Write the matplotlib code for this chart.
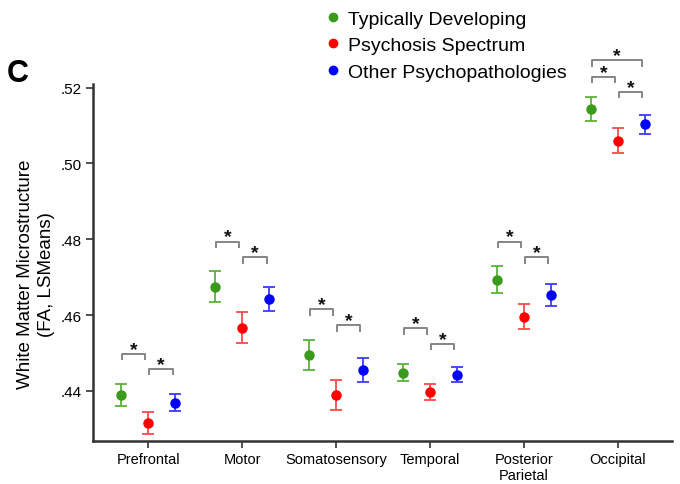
import numpy as np
import matplotlib
matplotlib.use("Agg")
import matplotlib.pyplot as plt
from matplotlib.lines import Line2D
from matplotlib.ticker import FuncFormatter

plt.rcParams['font.family'] = ['Liberation Sans', 'DejaVu Sans']

regions = ['Prefrontal', 'Motor', 'Somatosensory', 'Temporal', 'Posterior\nParietal', 'Occipital']
groups = ['Typically Developing', 'Psychosis Spectrum', 'Other Psychopathologies']

# LS means and error half-widths per group
td_mean = [0.4389, 0.4675, 0.4495, 0.4448, 0.4693, 0.5144]
td_err = [0.0030, 0.0041, 0.0039, 0.0023, 0.0036, 0.0032]
ps_mean = [0.4315, 0.4567, 0.4389, 0.4397, 0.4596, 0.5060]
ps_err = [0.0029, 0.0040, 0.0040, 0.0022, 0.0034, 0.0033]
op_mean = [0.4369, 0.4642, 0.4455, 0.4443, 0.4652, 0.5103]
op_err = [0.0023, 0.0032, 0.0031, 0.0019, 0.0029, 0.0026]

# significant pairs: (region index, group a, group b, bracket height)
sig_pairs = [
    (0, 0, 1, 0.4498), (0, 1, 2, 0.4458),
    (1, 0, 1, 0.4794), (1, 1, 2, 0.4752),
    (2, 0, 1, 0.4615), (2, 1, 2, 0.4573),
    (3, 0, 1, 0.4565), (3, 1, 2, 0.4524),
    (4, 0, 1, 0.4794), (4, 1, 2, 0.4752),
    (5, 0, 2, 0.5272), (5, 0, 1, 0.5228), (5, 1, 2, 0.5189),
]

dot_colors = ['#3a9a1c', '#ff0000', '#0000ff']
bar_colors = ['#5cb23c', '#ff4a4a', '#3c3cff']
offsets = [-0.29, 0.0, 0.29]

fig = plt.figure(figsize=(6.8, 4.85), dpi=100)
ax = fig.add_axes([0.137, 0.089, 0.851, 0.736])

x = np.arange(1, len(regions) + 1)
means = [td_mean, ps_mean, op_mean]
errs = [td_err, ps_err, op_err]
for g in range(3):
    ax.errorbar(x + offsets[g], means[g], yerr=errs[g], fmt='none',
                ecolor=bar_colors[g], elinewidth=1.3, capsize=4.2, capthick=1.3)
    ax.plot(x + offsets[g], means[g], 'o', color=dot_colors[g], markersize=6.5, zorder=3)

# significance brackets
tick = 0.0014
for r, a, b, h in sig_pairs:
    x0 = x[r] + offsets[a] + 0.01
    x1 = x[r] + offsets[b] - 0.03
    ax.plot([x0, x0, x1, x1], [h - tick, h, h, h - tick], color='#858585',
            lw=1.4, clip_on=False)
    ax.text((x0 + x1) / 2, h + 0.0012, '*', ha='center', va='center',
            fontsize=14, fontweight='bold', color='#111111', clip_on=False)

ax.set_xlim(0.415, 6.574)
ax.set_ylim(0.4268, 0.521)
ax.set_yticks([0.44, 0.46, 0.48, 0.50, 0.52])
ax.yaxis.set_major_formatter(FuncFormatter(lambda v, p: ('%.2f' % v).lstrip('0')))
ax.set_xticks(x)
ax.set_xticklabels(regions, fontsize=10.5)
ax.tick_params(axis='y', labelsize=11, length=5, width=1.2, color='#333333')
ax.tick_params(axis='x', length=5, width=1.2, color='#333333', pad=3)

for s in ['top', 'right']:
    ax.spines[s].set_visible(False)
for s in ['left', 'bottom']:
    ax.spines[s].set_linewidth(1.8)
    ax.spines[s].set_color('#333333')

ax.set_ylabel('White Matter Microstructure\n(FA, LSMeans)', fontsize=13.5,
              linespacing=1.3)
ax.yaxis.set_label_coords(-0.066, 0.47)

fig.text(0.01, 0.83, 'C', fontsize=22, fontweight='bold')

handles = [Line2D([], [], marker='o', linestyle='none', color=c, markersize=6)
           for c in dot_colors]
fig.legend(handles, groups, loc='upper left', bbox_to_anchor=(0.462, 1.005),
           frameon=False, fontsize=14, handlelength=0.5, handletextpad=0.55,
           labelspacing=0.45, borderaxespad=0.3)

fig.savefig('out.png', dpi=100)
